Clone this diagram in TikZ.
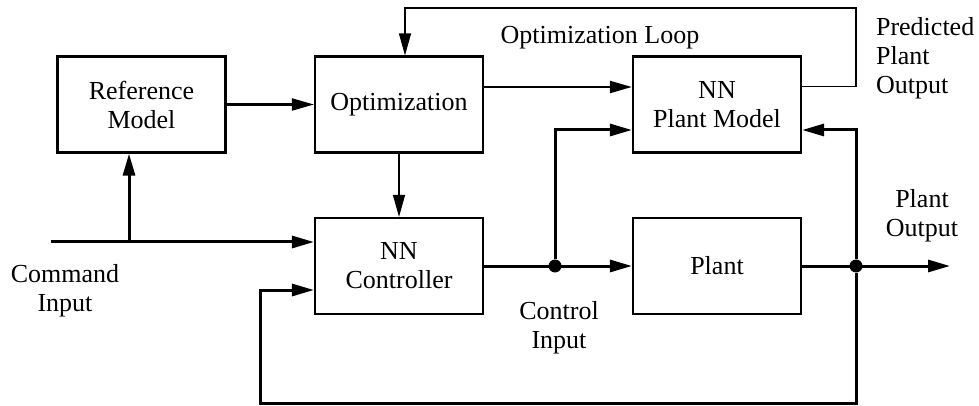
\documentclass[tikz,border=0pt]{standalone}
\usepackage{fontspec}
\setmainfont{Liberation Serif}
\usetikzlibrary{arrows.meta}

\tikzset{
  block/.style={draw, line width=1.1pt, minimum width=84pt, minimum height=48pt,
    align=center, inner sep=0pt, font=\fontsize{13}{14.5}\selectfont},
  sig/.style={line width=1.5pt, -{Triangle[length=11pt,width=6pt]}},
  midsig/.style={line width=1.1pt, -{Triangle[length=11pt,width=6pt]}},
  thinsig/.style={line width=0.65pt, -{Triangle[length=11pt,width=6pt]}},
  lbl/.style={align=center, font=\fontsize{13}{14.5}\selectfont},
  junct/.style={circle, fill, inner sep=0pt, minimum size=6.5pt},
}

\begin{document}
\begin{tikzpicture}[x=0.5pt,y=-0.5pt]
  \useasboundingbox (0,0) rectangle (979,406);

  % blocks
  \node[block] (refm) at (141.5,104.5) {Reference\\Model};
  \node[block] (opt) at (399,104.5) {Optimization};
  \node[block] (pm) at (717,104.5) {NN\\Plant Model};
  \node[block] (ctrl) at (399,266) {NN\\Controller};
  \node[block] (plant) at (717,266) {Plant};

  % free ends and junctions
  \coordinate (cmd) at (51,242);
  \coordinate (br) at (129,242);
  \coordinate (out) at (950,266);
  \node[junct] (jc) at (555,266) {};
  \node[junct] (jp) at (856,266) {};

  % command input
  \draw[sig] (cmd) -- ([yshift=12pt]ctrl.west);
  \draw[sig] (br) -- (br |- refm.south);

  % optimization part
  \draw[midsig] (refm.east) -- (opt.west);
  \draw[thinsig] (opt.south) -- (ctrl.north);
  \draw[midsig] ([yshift=8.75pt]opt.east) -- ([yshift=8.75pt]pm.west);
  \draw[thinsig] ([yshift=9pt]pm.east) -| (856,8) -| ([xshift=3pt]opt.north);

  % control loop
  \draw[sig] (ctrl.east) -- (plant.west);
  \draw[sig] (jc) |- ([yshift=-12.75pt]pm.west);
  \draw[sig] (plant.east) -- (out);
  \draw[sig] (jp) |- ([yshift=-12.75pt]pm.east);
  \draw[sig] (jp) |- (260,403) |- ([yshift=-12pt]ctrl.west);

  % labels
  \node[lbl] (optloop) at (600,38) {Optimization Loop};
  \node[lbl, align=left, anchor=west] (predout) at (869,58) {Predicted\\Plant\\Output};
  \node[lbl] (plantout) at (922,216) {Plant\\Output};
  \node[lbl] (cmdin) at (65,291) {Command\\Input};
  \node[lbl] (ctrlin) at (559,328) {Control\\Input};
\end{tikzpicture}
\end{document}
